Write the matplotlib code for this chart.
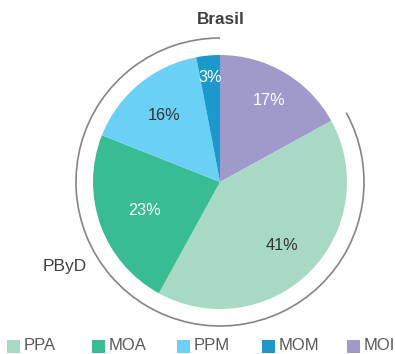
import numpy as np
import matplotlib
matplotlib.use("Agg")
import matplotlib.pyplot as plt
from matplotlib.patches import Arc, Rectangle

plt.rcParams['font.family'] = ['Liberation Sans', 'DejaVu Sans']

# Shares by category, clockwise from 12 o'clock
categories = ["MOI", "PPA", "MOA", "PPM", "MOM"]
shares = [17, 41, 23, 16, 3]
colors = ["#A09ACC", "#A8D9C4", "#38BC94", "#6BD0F5", "#1B98CC"]
label_colors = ["white", "#333333", "white", "#333333", "white"]
label_radius = [0.76, 0.69, 0.63, 0.69, 0.84]

legend_order = ["PPA", "MOA", "PPM", "MOM", "MOI"]
group_label = "PByD"
group_members = ["PPA", "MOA", "PPM", "MOM"]
title = "Brasil"

W, H = 395, 354
fig = plt.figure(figsize=(W / 100, H / 100), dpi=100)
ax = fig.add_axes([0, 0, 1, 1])

cx, cy, R = 220, 172, 127

wedges, _ = ax.pie(shares, colors=colors, startangle=90, counterclock=False,
                   center=(cx, cy), radius=R, frame=True,
                   wedgeprops=dict(linewidth=0))
ax.set_xlim(0, W)
ax.set_ylim(0, H)
ax.set_aspect('equal')
ax.axis('off')

# percentage labels at each wedge's mid-angle
for w, s, c, rf in zip(wedges, shares, label_colors, label_radius):
    mid = np.deg2rad((w.theta1 + w.theta2) / 2)
    x = cx + rf * R * np.cos(mid)
    y = cy + rf * R * np.sin(mid)
    ax.text(x, y, f"{s}%", ha='center', va='center_baseline', fontsize=11.7,
            color=c)

# bracket arc around the PByD group
total = sum(shares)
grp = sum(s for k, s in zip(categories, shares) if k in group_members)
end_angle = 90 + 360 * grp / total
ax.add_patch(Arc((cx, cy), 2 * 144, 2 * 144, theta1=90, theta2=end_angle,
                 color="#858585", lw=1.2))
ax.text(65, 87, group_label, ha='center', va='center', fontsize=12.5,
        color="#404040")

ax.text(221, 335, title, ha='center', va='center', fontsize=12.3,
        fontweight='bold', color="#404040")

# legend row
color_of = dict(zip(categories, colors))
for i, name in enumerate(legend_order):
    x0 = 7 + 85 * i
    ax.add_patch(Rectangle((x0, 1), 13, 13, color=color_of[name], lw=0))
    ax.text(x0 + 17, 8, name, ha='left', va='center', fontsize=12,
            color="#595959")

fig.savefig("out.png", dpi=100)
